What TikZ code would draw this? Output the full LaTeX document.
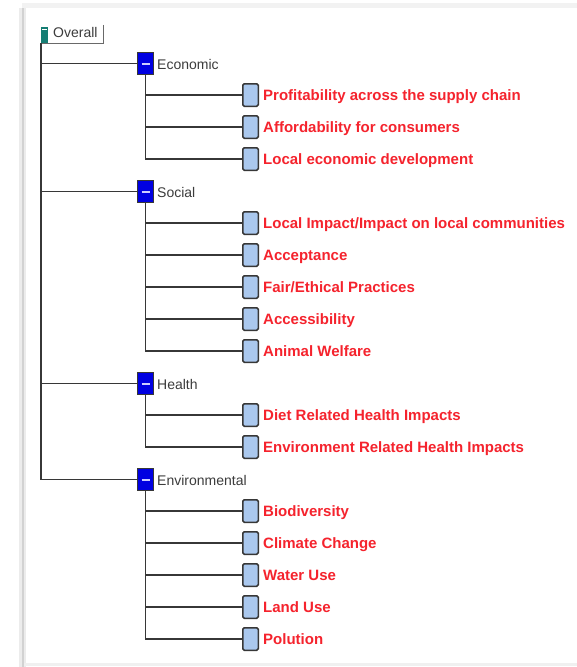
\documentclass[tikz,border=0pt]{standalone}
\usepackage{fontspec}
\setmainfont{Liberation Sans}
\definecolor{treeline}{RGB}{55,55,55}
\definecolor{leafred}{RGB}{245,35,45}
\definecolor{leafblue}{RGB}{170,200,238}
\definecolor{catblue}{RGB}{0,0,225}
\definecolor{catminus}{RGB}{205,205,255}
\definecolor{rootteal}{RGB}{20,125,115}
\definecolor{labelgray}{RGB}{60,60,60}
\tikzset{
  catbox/.style={draw=treeline,fill=catblue,line width=1.2pt,minimum width=16pt,minimum height=22pt,inner sep=0pt,
    path picture={\draw[catminus,line width=2pt] ([xshift=-4pt]path picture bounding box.center) -- ([xshift=4pt]path picture bounding box.center);}},
  leafbox/.style={draw=treeline,fill=leafblue,line width=1.5pt,rounded corners=1.5pt,minimum width=15.5pt,minimum height=22.5pt,inner sep=0pt},
  cattext/.style={anchor=base west,inner sep=0pt,text=labelgray,font=\fontsize{14}{16}\selectfont},
  leaftext/.style={anchor=base west,inner sep=0pt,text=leafred,font=\fontsize{15}{18}\selectfont\bfseries},
  branch/.style={draw=treeline,line width=1.4pt}
}
\begin{document}
\begin{tikzpicture}[x=1pt,y=-1pt]
\useasboundingbox (0,0) rectangle (577,667);
\fill[white] (0,0) rectangle (577,667);
% panel shadow
\fill[gray!10] (22,3) rectangle (577,8);
\fill[gray!15] (19,8) rectangle (26,667);
\fill[gray!35] (21.5,8) rectangle (23.5,667);
\fill[gray!12] (24,663) rectangle (577,666);
% root
\node[inner sep=0pt,minimum width=62pt,minimum height=18pt] (overall) at (72,34) {};
\draw[treeline!75,line width=1.3pt] (overall.north east) -- (overall.south east) -- (overall.south west);
\node[fill=rootteal,minimum width=7pt,minimum height=16pt,inner sep=0pt,anchor=south west] (ovsign) at (overall.south west) {};
\draw[white,line width=1pt] ([xshift=1.5pt,yshift=-2.5pt]ovsign.north west) -- ([xshift=-1.5pt,yshift=-2.5pt]ovsign.north east);
\node[cattext] (ovtxt) at (53,37) {Overall};
% categories
\node[catbox] (econ) at (145.5,63.5) {};
\node[cattext] (econtxt) at (157,69) {Economic};
\node[catbox] (soc) at (145.5,191.5) {};
\node[cattext] (soctxt) at (157,197) {Social};
\node[catbox] (hlth) at (145.5,383.5) {};
\node[cattext] (hlthtxt) at (157,389) {Health};
\node[catbox] (envr) at (145.5,479.5) {};
\node[cattext] (envrtxt) at (157,485) {Environmental};
\draw[branch] (overall.south west) |- (econ.west);
\draw[branch] (overall.south west) |- (soc.west);
\draw[branch] (overall.south west) |- (hlth.west);
\draw[branch] (overall.south west) |- (envr.west);
% economic
\node[leafbox] (prof) at (250.5,95) {};
\node[leaftext] (proftxt) at (263,100.5) {Profitability across the supply chain};
\node[leafbox] (afford) at (250.5,127) {};
\node[leaftext] (affordtxt) at (263,132.5) {Affordability for consumers};
\node[leafbox] (locdev) at (250.5,159) {};
\node[leaftext] (locdevtxt) at (263,164.5) {Local economic development};
\draw[branch] (econ.south) |- (prof.west);
\draw[branch] (econ.south) |- (afford.west);
\draw[branch] (econ.south) |- (locdev.west);
% social
\node[leafbox] (locimp) at (250.5,223) {};
\node[leaftext] (locimptxt) at (263,228.5) {Local Impact/Impact on local communities};
\node[leafbox] (accept) at (250.5,255) {};
\node[leaftext] (accepttxt) at (263,260.5) {Acceptance};
\node[leafbox] (fair) at (250.5,287) {};
\node[leaftext] (fairtxt) at (263,292.5) {Fair/Ethical Practices};
\node[leafbox] (access) at (250.5,319) {};
\node[leaftext] (accesstxt) at (263,324.5) {Accessibility};
\node[leafbox] (animal) at (250.5,351) {};
\node[leaftext] (animaltxt) at (263,356.5) {Animal Welfare};
\draw[branch] (soc.south) |- (locimp.west);
\draw[branch] (soc.south) |- (accept.west);
\draw[branch] (soc.south) |- (fair.west);
\draw[branch] (soc.south) |- (access.west);
\draw[branch] (soc.south) |- (animal.west);
% health
\node[leafbox] (diet) at (250.5,415) {};
\node[leaftext] (diettxt) at (263,420.5) {Diet Related Health Impacts};
\node[leafbox] (envhlth) at (250.5,447) {};
\node[leaftext] (envhlthtxt) at (263,452.5) {Environment Related Health Impacts};
\draw[branch] (hlth.south) |- (diet.west);
\draw[branch] (hlth.south) |- (envhlth.west);
% environmental
\node[leafbox] (biodiv) at (250.5,511) {};
\node[leaftext] (biodivtxt) at (263,516.5) {Biodiversity};
\node[leafbox] (climate) at (250.5,543) {};
\node[leaftext] (climatetxt) at (263,548.5) {Climate Change};
\node[leafbox] (water) at (250.5,575) {};
\node[leaftext] (watertxt) at (263,580.5) {Water Use};
\node[leafbox] (land) at (250.5,607) {};
\node[leaftext] (landtxt) at (263,612.5) {Land Use};
\node[leafbox] (polut) at (250.5,639) {};
\node[leaftext] (poluttxt) at (263,644.5) {Polution};
\draw[branch] (envr.south) |- (biodiv.west);
\draw[branch] (envr.south) |- (climate.west);
\draw[branch] (envr.south) |- (water.west);
\draw[branch] (envr.south) |- (land.west);
\draw[branch] (envr.south) |- (polut.west);
\end{tikzpicture}
\end{document}
